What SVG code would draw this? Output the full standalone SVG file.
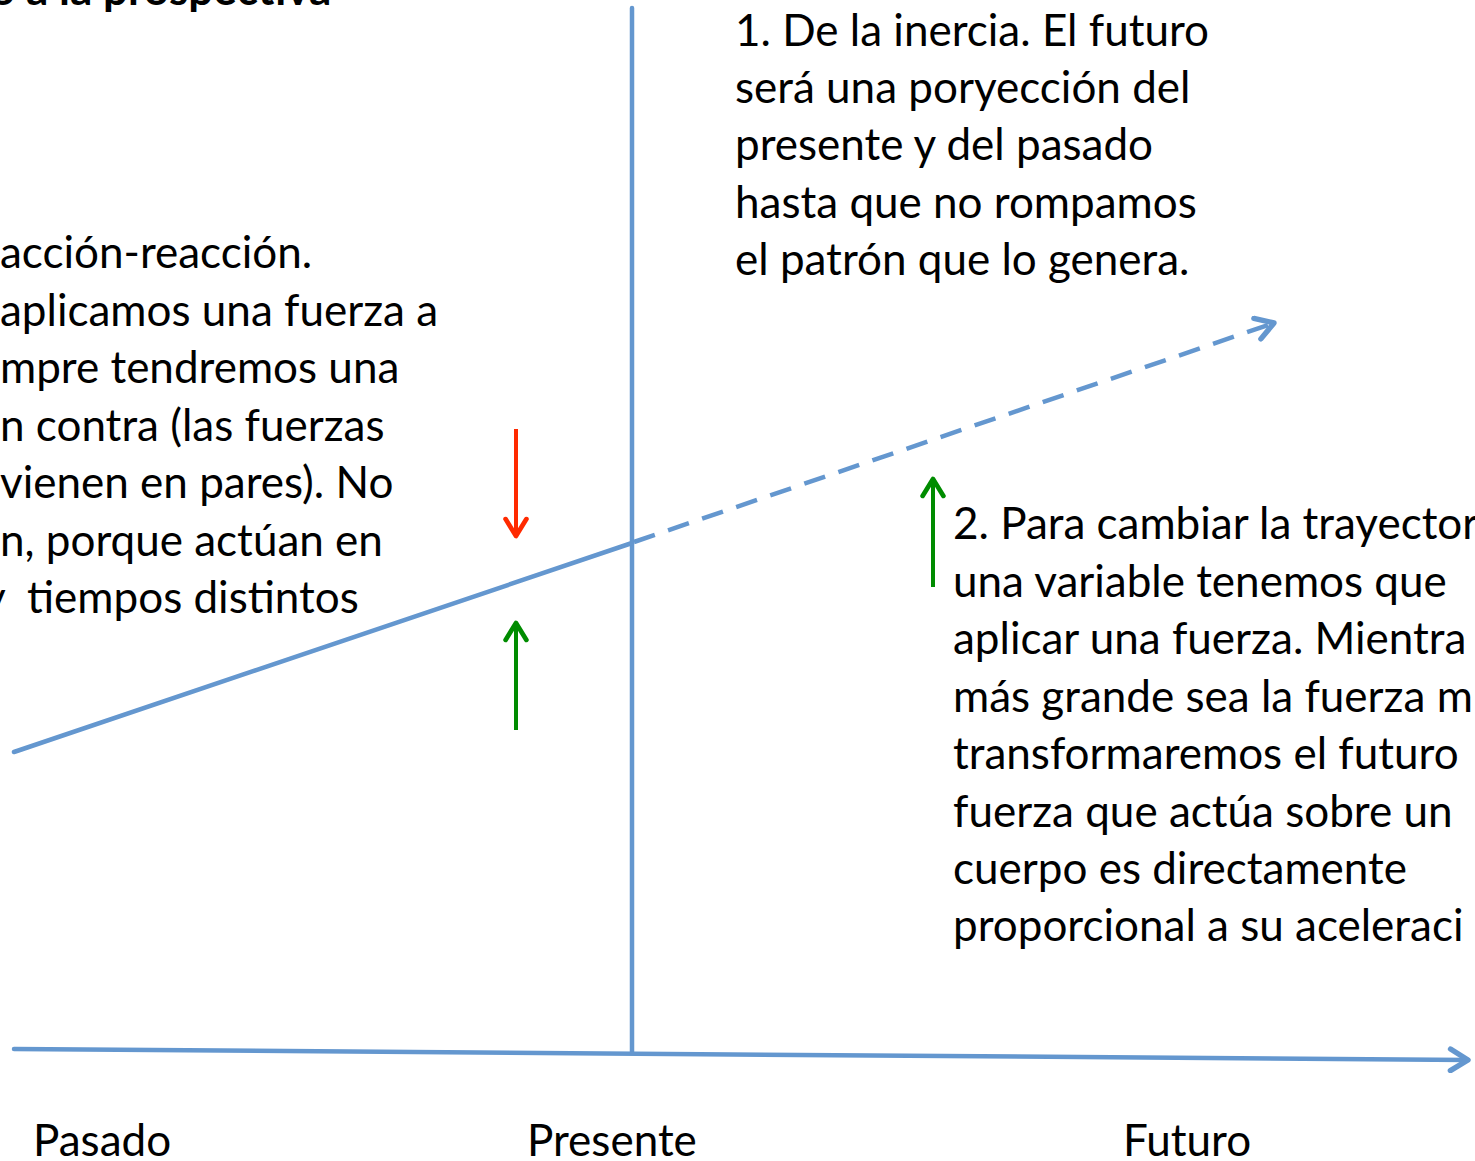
<svg xmlns="http://www.w3.org/2000/svg" width="1475" height="1161" viewBox="0 0 1475 1161">
<style>
text{font-family:Lato,"Open Sans","Liberation Sans",sans-serif;font-size:44px;fill:#000}
.b{font-weight:bold}
.ax{stroke:#6497CF;stroke-width:4.5;fill:none;stroke-linecap:round}
.dash{stroke-dasharray:22 14;stroke-linecap:butt}
.red{stroke:#FF2A00;stroke-width:4;fill:none}
.grn{stroke:#008C00;stroke-width:4;fill:none}
</style>
<defs>
<marker id="hb" viewBox="0 0 10 10" refX="8" refY="5" markerWidth="6" markerHeight="6" orient="auto" markerUnits="strokeWidth"><path d="M1.5,1 L8,5 L1.5,9" fill="none" stroke="#6497CF" stroke-width="2" stroke-linecap="round" stroke-linejoin="round"/></marker>
<marker id="hr" viewBox="0 0 10 10" refX="8" refY="5" markerWidth="6.5" markerHeight="6.5" orient="auto" markerUnits="strokeWidth"><path d="M1.5,1 L8,5 L1.5,9" fill="none" stroke="#FF2A00" stroke-width="1.8" stroke-linecap="round" stroke-linejoin="round"/></marker>
<marker id="hg" viewBox="0 0 10 10" refX="8" refY="5" markerWidth="6.5" markerHeight="6.5" orient="auto" markerUnits="strokeWidth"><path d="M1.5,1 L8,5 L1.5,9" fill="none" stroke="#008C00" stroke-width="1.8" stroke-linecap="round" stroke-linejoin="round"/></marker>
</defs>
<rect width="1475" height="1161" fill="#fff"/>
<g id="connectors">
<line class="ax" x1="632" y1="8" x2="632" y2="1052"/>
<line class="ax" x1="14" y1="1049" x2="1468" y2="1060" marker-end="url(#hb)"/>
<line class="ax" x1="14" y1="752" x2="632" y2="543"/>
<line class="ax dash" x1="634" y1="542" x2="1274" y2="323" marker-end="url(#hb)"/>
<line class="red" x1="516" y1="429" x2="516" y2="536" marker-end="url(#hr)"/>
<line class="grn" x1="516" y1="730" x2="516" y2="623" marker-end="url(#hg)"/>
<line class="grn" x1="933" y1="587" x2="933" y2="479" marker-end="url(#hg)"/>
</g>
<g id="title"><text class="b" x="-10" y="5">o a la prospectiva</text></g>
<g id="left-text">
<text x="0" y="268">acción-reacción.</text>
<text x="0" y="326">aplicamos una fuerza a</text>
<text x="0" y="383">mpre tendremos una</text>
<text x="0" y="441">n contra (las fuerzas</text>
<text x="0" y="498">vienen en pares). No</text>
<text x="0" y="556">n, porque actúan en</text>
<text x="-17" y="613">y<tspan x="27">tiempos distintos</tspan></text>
</g>
<g id="text1">
<text x="735" y="46">1. De la inercia. El futuro</text>
<text x="735" y="103">será una poryección del</text>
<text x="735" y="160">presente y del pasado</text>
<text x="735" y="218">hasta que no rompamos</text>
<text x="735" y="275">el patrón que lo genera.</text>
</g>
<g id="text2">
<text x="953" y="539">2. Para cambiar la trayector</text>
<text x="953" y="597">una variable tenemos que</text>
<text x="953" y="654">aplicar una fuerza. Mientra</text>
<text x="953" y="712">más grande sea la fuerza m</text>
<text x="953" y="769">transformaremos el futuro</text>
<text x="953" y="827">fuerza que actúa sobre un</text>
<text x="953" y="884">cuerpo es directamente</text>
<text x="953" y="941">proporcional a su aceleraci</text>
</g>
<g id="pasado"><text x="33" y="1156">Pasado</text></g>
<g id="presente"><text x="527" y="1156">Presente</text></g>
<g id="futuro"><text x="1123" y="1156">Futuro</text></g>
</svg>
